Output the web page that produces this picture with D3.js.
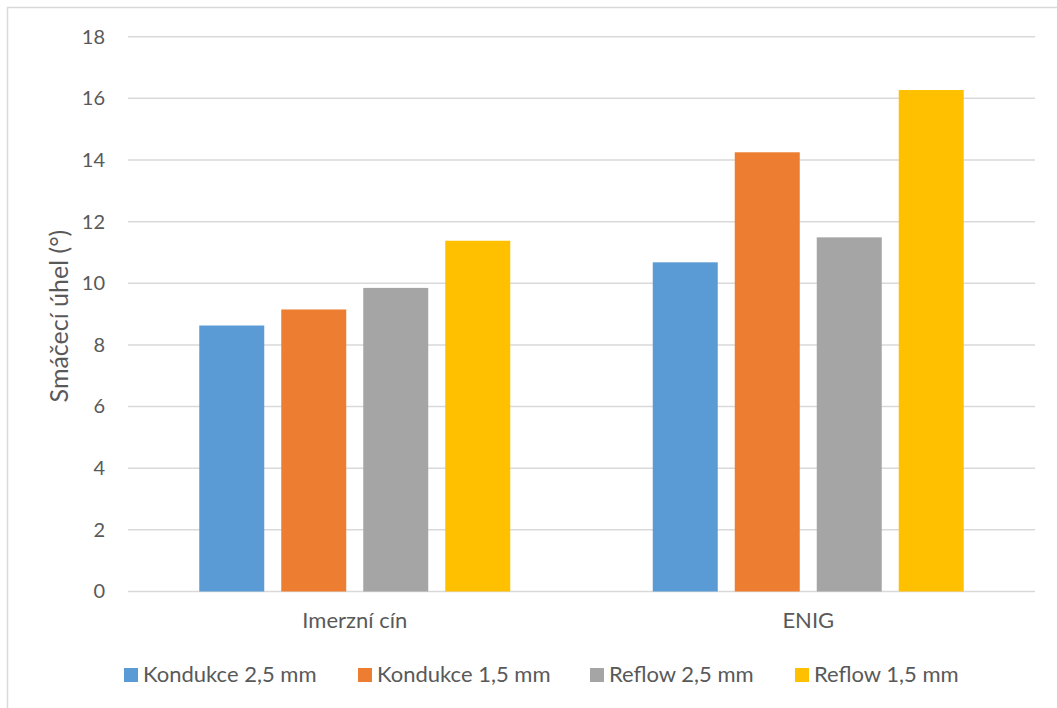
<!DOCTYPE html>
<html>
<head>
<meta charset="utf-8">
<script src="https://cdn.jsdelivr.net/npm/d3@7"></script>
<style>
  body { margin: 0; background: #fff; }
  svg text { font-family: Lato, "Open Sans", sans-serif; fill: #595959; }
</style>
</head>
<body>
<svg id="chart" width="1057" height="708"></svg>
<script>
const categories = ["Imerzní cín", "ENIG"];
const seriesNames = ["Kondukce 2,5 mm", "Kondukce 1,5 mm", "Reflow 2,5 mm", "Reflow 1,5 mm"];
const seriesColors = ["#5b9bd5", "#ed7d31", "#a5a5a5", "#ffc000"];
const kondukce25 = [8.63, 10.68];
const kondukce15 = [9.15, 14.25];
const reflow25 = [9.85, 11.49];
const reflow15 = [11.38, 16.27];
const yTicks = [0, 2, 4, 6, 8, 10, 12, 14, 16, 18];
const yTitle = "Smáčecí úhel (°)";

const seriesValues = [kondukce25, kondukce15, reflow25, reflow15];

const svg = d3.select("#chart");

// outer chart frame
svg.append("rect")
  .attr("x", 7.5).attr("y", 7.5)
  .attr("width", 1070).attr("height", 720)
  .attr("fill", "none").attr("stroke", "#d9d9d9").attr("stroke-width", 1.5);

const plotLeft = 128, plotRight = 1035, plotTop = 36.7, plotBottom = 591.5;

const y = d3.scaleLinear().domain([0, 18]).range([plotBottom, plotTop]);
const x0 = d3.scaleBand().domain(categories).range([plotLeft, plotRight]).paddingInner(0).paddingOuter(0);
const x1 = d3.scaleBand().domain(seriesNames)
  .range([0, x0.bandwidth()]).paddingInner(17 / 82).paddingOuter(0.869);

// gridlines
svg.append("g").selectAll("line").data(yTicks).join("line")
  .attr("x1", plotLeft).attr("x2", plotRight)
  .attr("y1", d => y(d)).attr("y2", d => y(d))
  .attr("stroke", "#d9d9d9").attr("stroke-width", 1.5);

// y axis labels
const yAxis = d3.axisLeft(y).tickValues(yTicks).tickSize(0).tickPadding(0);
const yg = svg.append("g").attr("transform", `translate(105,0)`).call(yAxis);
yg.select(".domain").remove();
yg.selectAll("text").attr("font-size", 20).attr("fill", "#595959")
  .style("font-family", "Lato, 'Open Sans', sans-serif");

// y axis title
svg.append("text")
  .attr("transform", `translate(68,${(plotTop + plotBottom) / 2 + 2}) rotate(-90)`)
  .attr("text-anchor", "middle")
  .attr("font-size", 25)
  .text(yTitle);

// bars
const groups = svg.append("g").selectAll("g").data(categories).join("g")
  .attr("transform", d => `translate(${x0(d)},0)`);

groups.selectAll("rect")
  .data((c, ci) => seriesNames.map((s, si) => ({ s, si, v: seriesValues[si][ci] })))
  .join("rect")
  .attr("x", d => x1(d.s))
  .attr("width", x1.bandwidth())
  .attr("y", d => y(d.v))
  .attr("height", d => y(0) - y(d.v))
  .attr("fill", d => seriesColors[d.si]);

// category axis labels
const xAxis = d3.axisBottom(x0).tickSize(0).tickPadding(0);
const xg = svg.append("g").attr("transform", `translate(0,628)`).call(xAxis);
xg.select(".domain").remove();
xg.selectAll("text").attr("font-size", 22).attr("fill", "#595959").attr("dy", 0)
  .style("font-family", "Lato, 'Open Sans', sans-serif");

// legend
const legendX = [124, 358, 590, 795];
const legend = svg.append("g").selectAll("g").data(seriesNames).join("g")
  .attr("transform", (d, i) => `translate(${legendX[i]},668)`);
legend.append("rect").attr("width", 14).attr("height", 14)
  .attr("fill", (d, i) => seriesColors[i]);
legend.append("text").attr("x", 19).attr("y", 14).attr("font-size", 22).text(d => d);
</script>
</body>
</html>
